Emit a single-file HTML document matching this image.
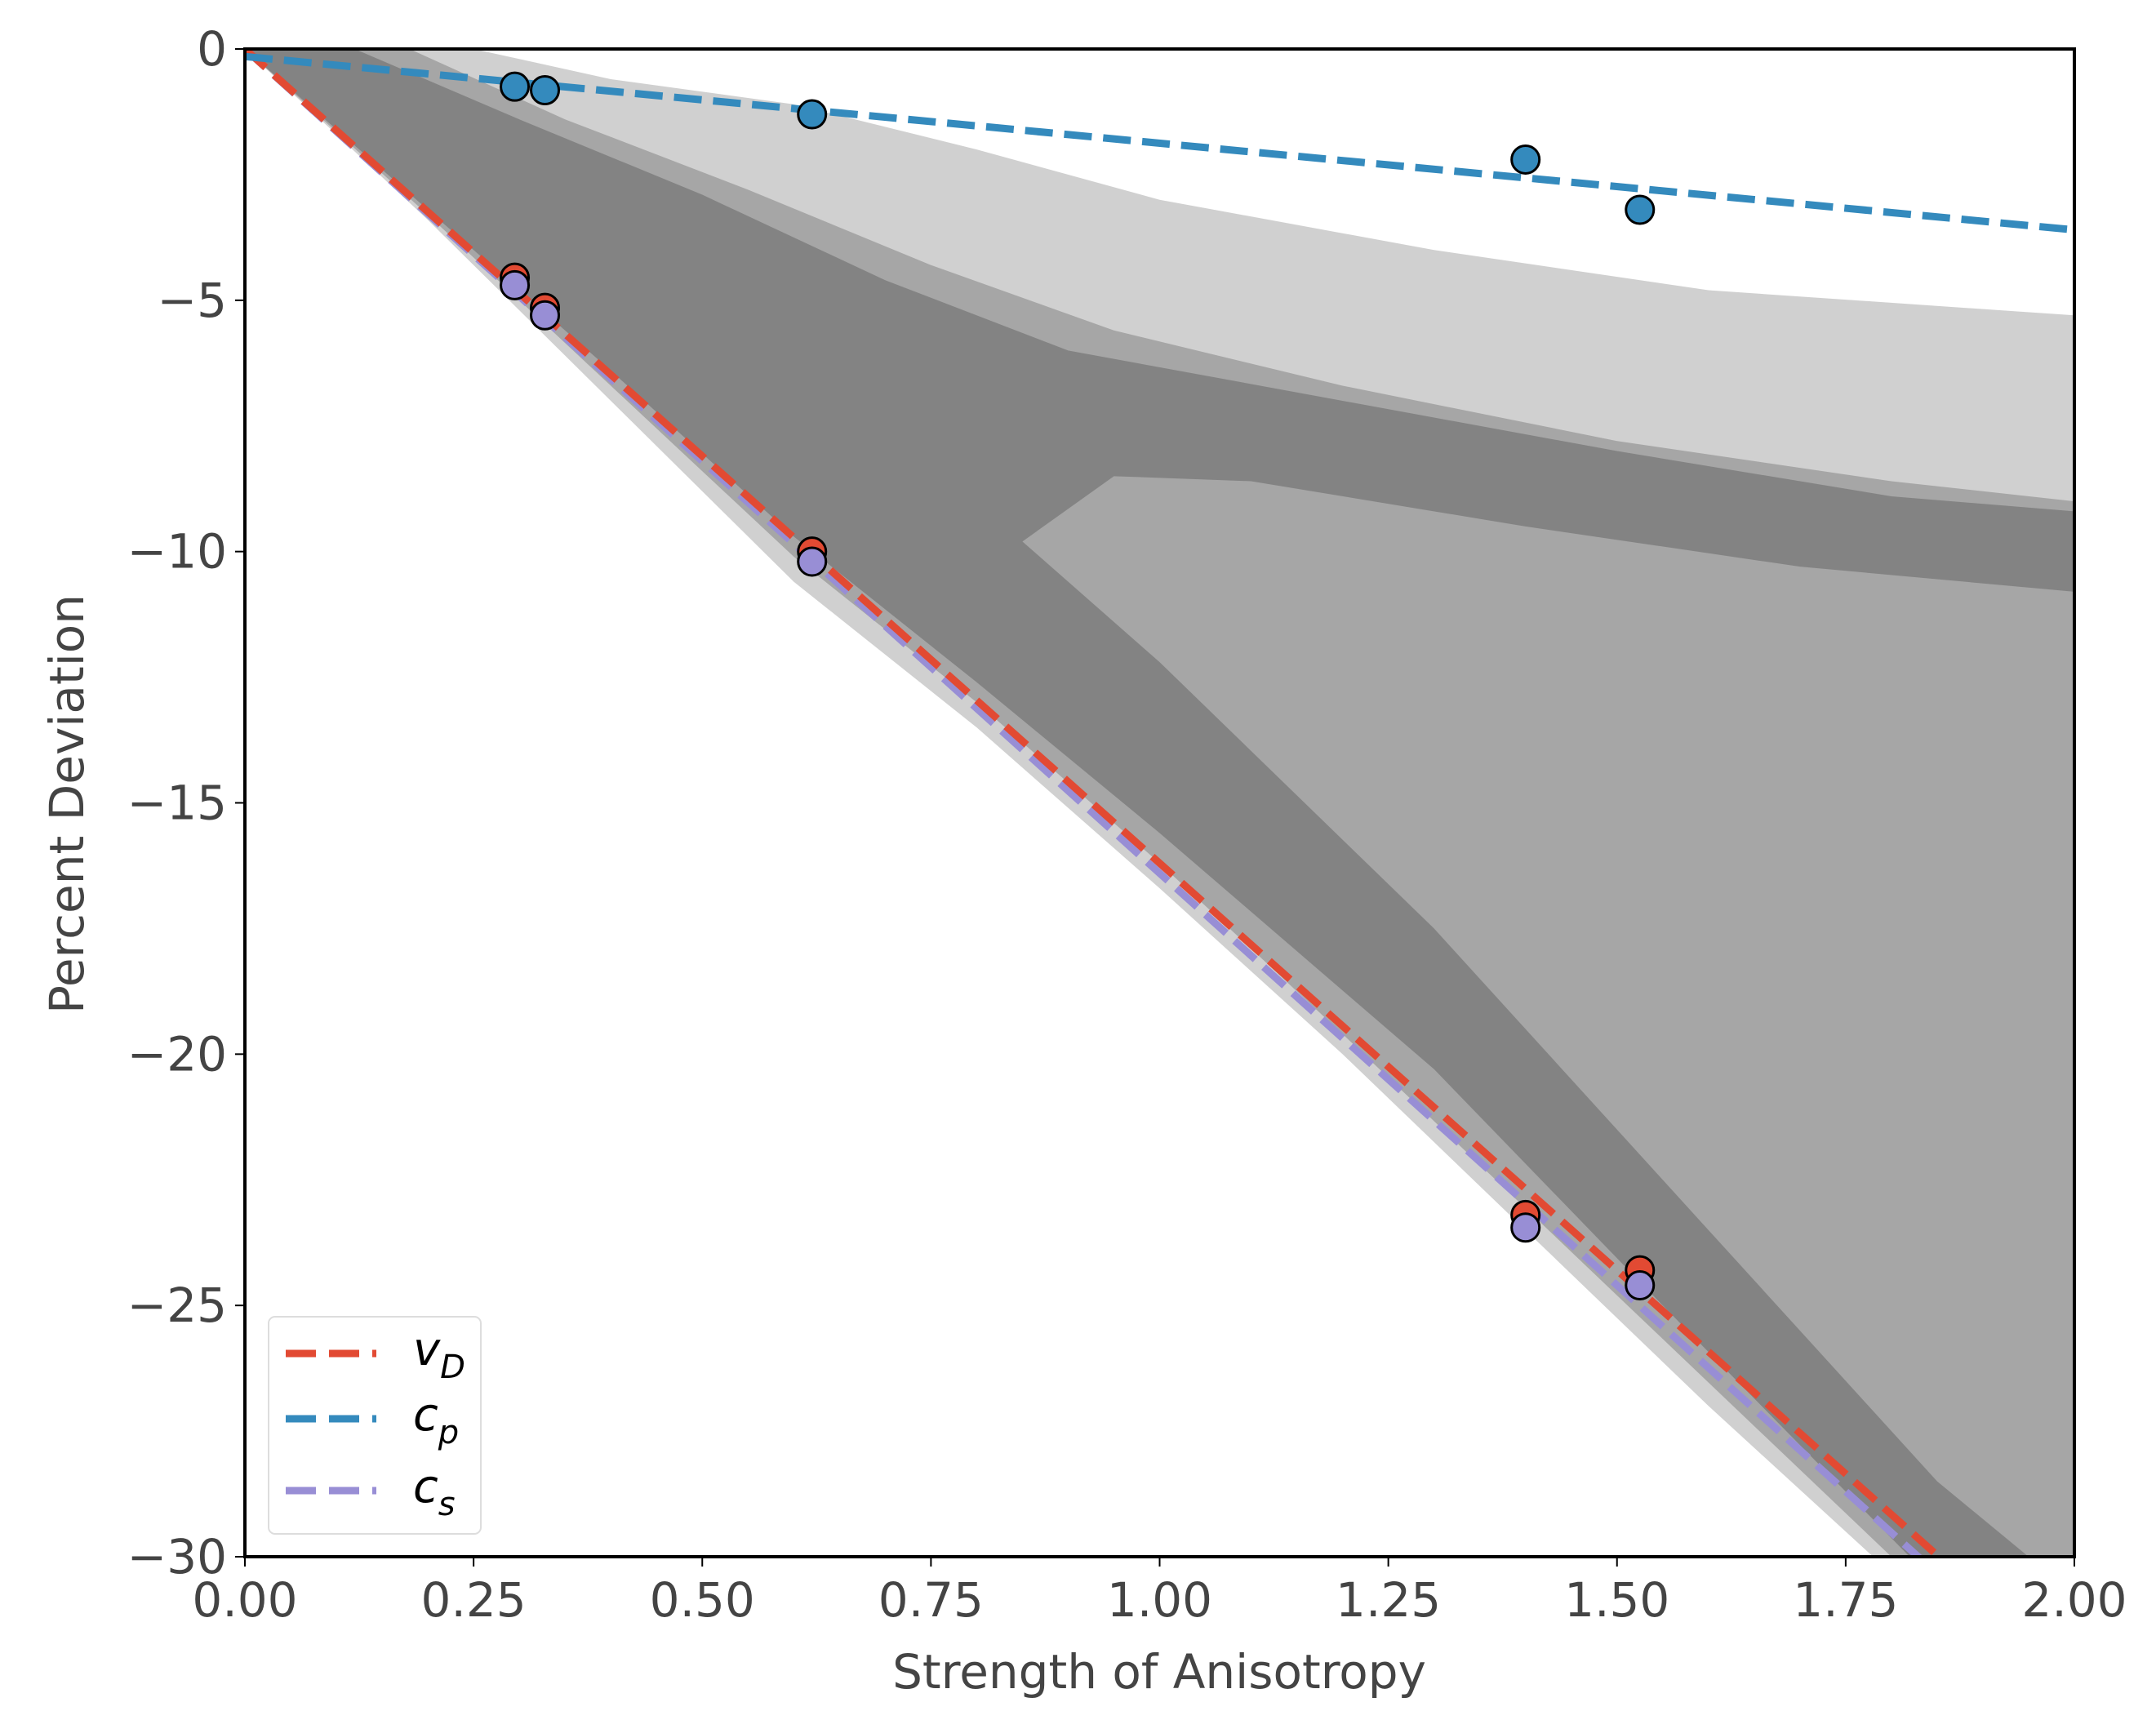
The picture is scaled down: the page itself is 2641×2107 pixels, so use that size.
<!DOCTYPE html>
<html><head><meta charset="utf-8"><style>
body{margin:0;background:#fff}
svg text{font-family:"DejaVu Sans","Liberation Sans",sans-serif}
</style></head><body>
<svg id="chart" width="2641" height="2102" xmlns="http://www.w3.org/2000/svg">
<rect width="2641" height="2102" fill="#fff"/>
<defs><clipPath id="plotclip"><rect x="300" y="60" width="2241" height="1847"/></clipPath></defs>
<g id="density" clip-path="url(#plotclip)"></g>
<g id="lines" clip-path="url(#plotclip)"></g>
<g id="points"></g>
<g id="axes"></g>
<g id="legend"></g>
</svg>
<script>
const xTicks=[0,0.25,0.5,0.75,1.0,1.25,1.5,1.75,2.0];
const xTickLabels=["0.00","0.25","0.50","0.75","1.00","1.25","1.50","1.75","2.00"];
const yTicks=[0,-5,-10,-15,-20,-25,-30];
const yTickLabels=["0","\u22125","\u221210","\u221215","\u221220","\u221225","\u221230"];
// measured points
const sampleX=[0.295,0.328,0.62,1.40,1.525];
const cpVals=[-0.75,-0.82,-1.3,-2.2,-3.2];
const vdVals=[-4.55,-5.15,-10.0,-23.2,-24.3];
const csVals=[-4.7,-5.3,-10.2,-23.45,-24.6];
// fitted lines [x0,y0,x1,y1]
const cpLine=[0,-0.15,2,-3.6];
const vdLine=[0,0,2,-32.4];
const csLine=[0,0,2,-32.8];
// density envelope regions (data coords)
const lightRegion=[[0,0],[0.25,0],[0.4,-0.6],[0.6,-1.1],[0.8,-2.0],[1.0,-3.0],[1.3,-4.0],[1.6,-4.8],[2,-5.3],[2,-30],[1.78,-30],[1.6,-27],[1.4,-23.5],[1.2,-20],[1.0,-16.7],[0.8,-13.5],[0.6,-10.6],[0.4,-7.0],[0.2,-3.4],[0,0]];
const midRegion=[[0,0],[0.18,0],[0.35,-1.4],[0.55,-2.8],[0.75,-4.3],[0.95,-5.6],[1.2,-6.7],[1.5,-7.8],[1.8,-8.6],[2,-9.0],[2,-30],[1.8,-30],[1.5,-24.8],[1.2,-19.6],[1.0,-16.2],[0.8,-13.0],[0.6,-10.1],[0.4,-6.7],[0.2,-3.3],[0,0]];
const coreRegion=[[0,0],[0.12,0],[0.3,-1.4],[0.5,-2.9],[0.7,-4.6],[0.9,-6.0],[1.2,-7.0],[1.5,-8.0],[1.8,-8.9],[2,-9.2],[2,-10.8],[1.7,-10.3],[1.4,-9.5],[1.1,-8.6],[0.95,-8.5],[0.85,-9.8],[1.0,-12.2],[1.3,-17.5],[1.6,-23.5],[1.85,-28.5],[1.95,-30],[1.82,-30],[1.55,-25],[1.3,-20.3],[1.0,-15.6],[0.8,-12.6],[0.6,-9.7],[0.4,-6.4],[0.2,-3.2],[0,0]];
const X0=300,X1=2541,Y0=60,Y1=1907;
const sx=v=>X0+(v-0)/(2-0)*(X1-X0);
const sy=v=>Y0+(0-v)/(30)*(Y1-Y0);
const NS="http://www.w3.org/2000/svg";
function mk(tag,attrs,parent){const e=document.createElementNS(NS,tag);for(const k in attrs)e.setAttribute(k,attrs[k]);parent.appendChild(e);return e;}
const dens=document.getElementById('density');
function poly(pts,fill,op,name){const e=mk('polygon',{points:pts.map(p=>sx(p[0])+','+sy(p[1])).join(' '),fill:fill,'fill-opacity':op},dens);

}
poly(lightRegion,'#8a8a8a',0.4,'scatter-sparse-region');
poly(midRegion,'#848484',0.55,'scatter-medium-region');
poly(coreRegion,'#808080',0.9,'scatter-dense-region');
const lines=document.getElementById('lines');
function line(l,color,name){const e=mk('line',{x1:sx(l[0]),y1:sy(l[1]),x2:sx(l[2]),y2:sy(l[3]),stroke:color,'stroke-width':9,'stroke-dasharray':'34 14'},lines);

}
line(csLine,'#988ed5','cs-line');
line(vdLine,'#e24a33','vd-line');
line(cpLine,'#348abd','cp-line');
const pg=document.getElementById('points');
function pts(vals,color,name){vals.forEach((v,i)=>{const c=mk('circle',{cx:sx(sampleX[i]),cy:sy(v),r:17,fill:color,stroke:'#000','stroke-width':3},pg);

});}
pts(cpVals,'#348abd','cp-point');
pts(vdVals,'#e24a33','vd-point');
pts(csVals,'#988ed5','cs-point');
const ax=document.getElementById('axes');
const fr=mk('rect',{x:X0,y:Y0,width:X1-X0,height:Y1-Y0,fill:'none',stroke:'#000','stroke-width':4},ax);


xTicks.forEach((v,i)=>{mk('line',{x1:sx(v),y1:Y1,x2:sx(v),y2:Y1+12,stroke:'#000','stroke-width':2},ax);
const t=mk('text',{x:sx(v),y:1980,'text-anchor':'middle','font-size':58,fill:'#444'},ax);t.textContent=xTickLabels[i];

});
yTicks.forEach((v,i)=>{mk('line',{x1:X0-12,y1:sy(v),x2:X0,y2:sy(v),stroke:'#000','stroke-width':2},ax);
const t=mk('text',{x:278,y:sy(v)+20,'text-anchor':'end','font-size':58,fill:'#444'},ax);t.textContent=yTickLabels[i];

});
const xl=mk('text',{x:1420,y:2068,'text-anchor':'middle','font-size':58,fill:'#444'},ax);xl.textContent='Strength of Anisotropy';


const yl=mk('text',{x:0,y:0,'text-anchor':'middle','font-size':58,fill:'#444',transform:'translate(102,985) rotate(-90)'},ax);yl.textContent='Percent Deviation';


const lg=document.getElementById('legend');
const lb=mk('rect',{x:329,y:1613,width:260,height:266,rx:8,fill:'#fff','fill-opacity':0.85,stroke:'#ddd','stroke-width':2},lg);


const leg=[['#e24a33','v','D',1700],['#348abd','c','p',1780],['#988ed5','c','s',1868]];
leg.forEach(l=>{const ln=mk('line',{x1:350,y1:l[3]-42,x2:461,y2:l[3]-42,stroke:l[0],'stroke-width':9,'stroke-dasharray':'37 16'},lg);


const t=mk('text',{x:506,y:l[3]-28,'font-size':56,'font-style':'italic',fill:'#000'},lg);
t.textContent=l[1];
const s=mk('tspan',{dy:16,'font-size':40},t);s.textContent=l[2];

});
</script>
</body></html>
